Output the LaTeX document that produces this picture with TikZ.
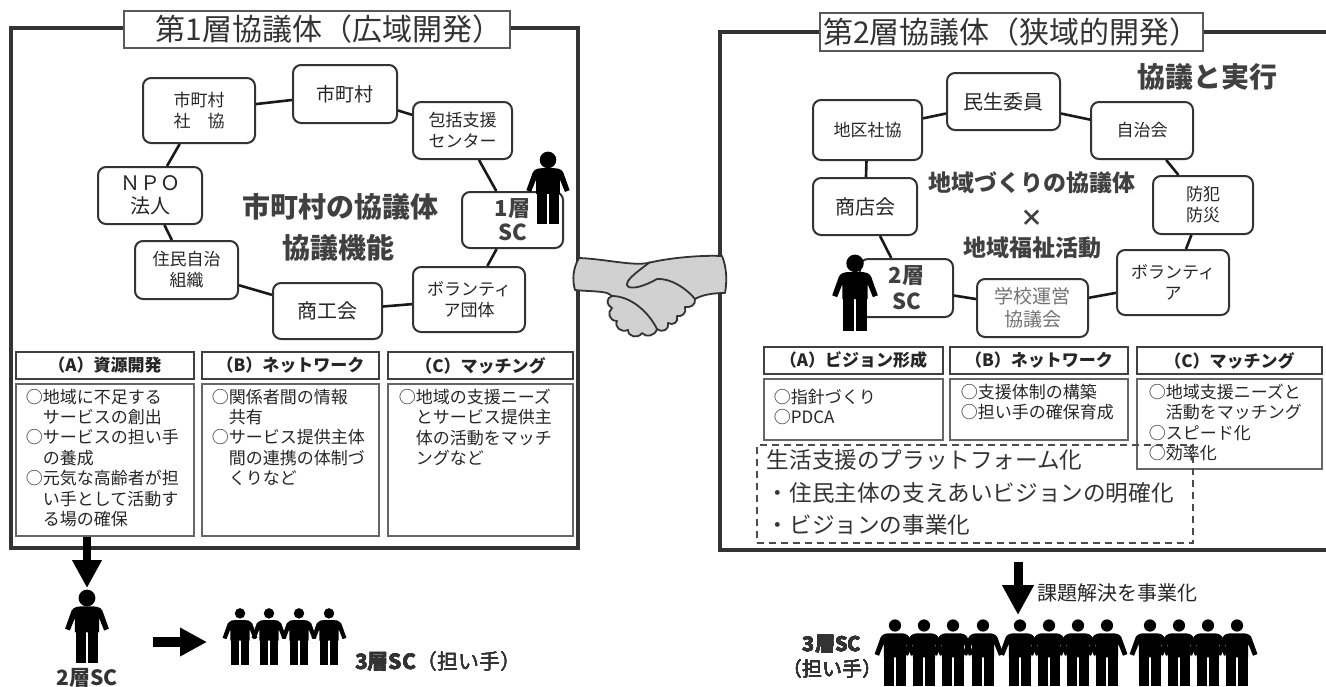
\documentclass[tikz,border=0pt]{standalone}
\usepackage{fontspec}
\setmainfont{Noto Sans CJK JP}
\usetikzlibrary{arrows.meta}

\newcommand\jfs[2]{\fontsize{#1}{#2}\selectfont}
% pictogram: [head radius] foot centre x, foot y, height
\newcommand\hito[4][0.115]{%
  \begin{scope}[shift={(#2,#3)}, x=#4*0.5pt, y=#4*0.5pt]
    \fill (0,0.89) circle (#1);
    \fill (-0.30,0.47) -- (-0.21,0.72) .. controls (-0.18,0.77) and (-0.12,0.775) .. (-0.08,0.775)
      -- (0.08,0.775) .. controls (0.12,0.775) and (0.18,0.77) .. (0.21,0.72) -- (0.30,0.47)
      -- (0.235,0.445) -- (0.165,0.62) -- (0.165,0.42) -- (-0.165,0.42) -- (-0.165,0.62)
      -- (-0.235,0.445) -- cycle;
    \fill (-0.155,0) rectangle (-0.012,0.43);
    \fill (0.012,0) rectangle (0.155,0.43);
  \end{scope}}

\begin{document}
\begin{tikzpicture}[x=0.5pt, y=-0.5pt,
    waku/.style={draw=black!80, line width=1.6pt},
    midashi/.style={draw=black!65, fill=white, line width=0.6pt, inner sep=0pt, text=black!80, font=\jfs{15}{18}},
    kikan/.style={draw=black!80, fill=white, rounded corners=4pt, line width=1pt, inner sep=0pt, align=center, text=black!85, font=\jfs{8.5}{10.5}},
    ring/.style={black!90, line width=1.3pt},
    komoku/.style={draw=black!75, line width=0.6pt, inner sep=0pt, font=\bfseries\jfs{8.5}{10}, text=black!85},
    naiyo/.style={draw=black!60, line width=0.6pt, inner sep=0pt},
    setsumei/.style={inner sep=0pt, align=left, anchor=north west, font=\jfs{8.5}{10.2}, text=black!85},
    chushin/.style={font=\bfseries\jfs{14}{20}, text=black!75, inner sep=0pt},
    futoya/.style={-{Triangle[length=14pt, width=14pt]}, line width=4pt},
  ]
  \fill[white] (0,0) rectangle (1326,686);
  \clip (0,0) rectangle (1326,686);

  % frames
  \draw[waku] (11,28) rectangle (578,548);
  \node[midashi, minimum width=193pt, minimum height=18.5pt] (midashi1) at (317,29.5) {\hspace{12pt}第1層協議体（広域開発）};
  \draw[waku] (1340,32) -- (720,32) -- (720,550) -- (1340,550);
  \node[midashi, minimum width=191.5pt, minimum height=19pt] (midashi2) at (1011.5,32) {第2層協議体（狭域的開発）};

  % handshake
  \filldraw[fill=black!18, draw=black!80, line width=0.9pt, line join=round]
    (579,258) .. controls (605,259) and (632,266) .. (648,263)
    .. controls (668,258) and (700,255) .. (722,256)
    .. controls (727,268) and (727,282) .. (725,293)
    .. controls (712,293) and (702,295) .. (695,299)
    .. controls (696,305) and (690,308) .. (685,307)
    .. controls (687,313) and (682,317) .. (677,316)
    .. controls (679,322) and (673,326) .. (668,323)
    .. controls (669,330) and (663,333) .. (657,329)
    .. controls (655,336) and (646,338) .. (642,333)
    .. controls (638,339) and (628,337) .. (628,330)
    .. controls (621,333) and (614,327) .. (617,321)
    .. controls (609,321) and (607,312) .. (612,308)
    .. controls (606,305) and (606,298) .. (612,296)
    .. controls (608,293) and (605,292) .. (602,292)
    .. controls (594,291) and (584,291) .. (575,290)
    .. controls (572,280) and (573,268) .. (579,258) -- cycle;
  \draw[black!80, line width=0.9pt, line join=round]
    (650,262) .. controls (640,270) and (626,279) .. (627,285)
    .. controls (629,291) and (645,286) .. (657,279)
    .. controls (671,278) and (687,289) .. (695,299);
  \draw[black!80, line width=0.9pt] (612,296) .. controls (630,296) and (648,311) .. (657,329);

  % first layer ring
  \node[kikan, minimum width=56pt, minimum height=32.5pt] (sikyo) at (199,110.5) {市町村\\社　協};
  \node[kikan, font=\jfs{9.5}{11}, minimum width=52pt, minimum height=29pt] (shicho) at (345,94) {市町村};
  \node[kikan, minimum width=49.5pt, minimum height=28.5pt] (hokatsu) at (462.5,130.5) {包括支援\\センター};
  \node[kikan, font=\bfseries\jfs{11}{12}, text=black!75, minimum width=50.5pt, minimum height=28pt] (sc1) at (512.5,220) {1層\\SC};
  \node[kikan, minimum width=56pt, minimum height=32.5pt] (volL) at (469,299.5) {ボランティ\\ア団体};
  \node[kikan, font=\jfs{10}{12}, minimum width=54.5pt, minimum height=28pt] (shoko) at (327.5,311) {商工会};
  \node[kikan, minimum width=51.5pt, minimum height=29pt] (jumin) at (186.5,270) {住民自治\\組織};
  \node[kikan, font=\jfs{10}{11.5}, minimum width=52pt, minimum height=28.5pt] (npo) at (150,195.5) {ＮＰＯ\\法人};
  \foreach \a/\b in {sikyo/shicho, shicho/hokatsu, hokatsu/sc1, sc1/volL, volL/shoko, shoko/jumin, jumin/npo, npo/sikyo}
    \draw[ring] (\a) -- (\b);
  \node[chushin] (kyogi1) at (340,207) {市町村の協議体};
  \node[chushin] (kino1) at (338,248) {協議機能};
  \hito{548}{224}{72}

  % second layer ring
  \node[kikan, minimum width=54.5pt, minimum height=30pt] (chiku) at (867.5,130) {地区社協};
  \node[kikan, font=\jfs{10}{12}, minimum width=56.5pt, minimum height=28.5pt] (minsei) at (1003.5,101.5) {民生委員};
  \node[kikan, minimum width=51pt, minimum height=28.5pt] (jichi) at (1142,130.5) {自治会};
  \node[kikan, minimum width=50pt, minimum height=29pt] (bohan) at (1203,205) {防犯\\防災};
  \node[kikan, minimum width=56pt, minimum height=32.5pt] (volR) at (1173,282.5) {ボランティ\\ア};
  \node[kikan, font=\jfs{9.5}{11.5}, text=black!55, minimum width=55.5pt, minimum height=29pt] (gakko) at (1032.5,308) {学校運営\\協議会};
  \node[kikan, font=\bfseries\jfs{11}{13}, text=black!75, minimum width=46.5pt, minimum height=29pt] (sc2) at (906.5,288) {2層\\SC};
  \node[kikan, font=\jfs{10}{12}, minimum width=52pt, minimum height=28.5pt] (shoten) at (865,206.5) {商店会};
  \foreach \a/\b in {chiku/minsei, minsei/jichi, jichi/bohan, bohan/volR, volR/gakko, gakko/sc2, sc2/shoten, shoten/chiku}
    \draw[ring] (\a) -- (\b);
  \node[chushin, font=\bfseries\jfs{11.5}{14}] (chiiki) at (1032,183) {地域づくりの協議体};
  \node[chushin, font=\bfseries\jfs{11.5}{14}] (kakeru) at (1032,218) {×};
  \node[chushin, font=\bfseries\jfs{11.5}{14}] (fukushi) at (1032,248) {地域福祉活動};
  \node[chushin] (jikko) at (1207,77) {協議と実行};
  \hito{855}{331}{76}

  % first layer functions
  \node[komoku, minimum width=89pt, minimum height=13.5pt] (hA) at (105,365.5) {（A）資源開発};
  \node[komoku, minimum width=88.5pt, minimum height=13.5pt] (hB) at (290.5,365.5) {（B）ネットワーク};
  \node[komoku, minimum width=92.5pt, minimum height=13.5pt] (hC) at (480.5,365.5) {（C）マッチング};
  \node[naiyo, minimum width=89pt, minimum height=76pt] (cA) at (105,460) {};
  \node[naiyo, minimum width=88.5pt, minimum height=76pt] (cB) at (290.5,460) {};
  \node[naiyo, minimum width=92.5pt, minimum height=76pt] (cC) at (480.5,460) {};
  \node[setsumei, xshift=5pt, yshift=-2.5pt] (tA) at (cA.north west)
    {○地域に不足する\\　サービスの創出\\○サービスの担い手\\　の養成\\○元気な高齢者が担\\　い手として活動す\\　る場の確保};
  \node[setsumei, xshift=5pt, yshift=-2.5pt] (tB) at (cB.north west)
    {○関係者間の情報\\　共有\\○サービス提供主体\\　間の連携の体制づ\\　くりなど};
  \node[setsumei, xshift=5.5pt, yshift=-2.5pt] (tC) at (cC.north west)
    {○地域の支援ニーズ\\　とサービス提供主\\　体の活動をマッチ\\　ングなど};

  % second layer functions
  \node[komoku, minimum width=89.5pt, minimum height=13.5pt] (rA) at (853.5,360.5) {（A）ビジョン形成};
  \node[komoku, minimum width=89pt, minimum height=13.5pt] (rB) at (1039,360.5) {（B）ネットワーク};
  \node[komoku, minimum width=92.5pt, minimum height=13.5pt] (rC) at (1229.5,360.5) {（C）マッチング};
  \node[naiyo, minimum width=89.5pt, minimum height=30.5pt] (dA) at (853.5,409.5) {};
  \node[naiyo, minimum width=89pt, minimum height=30.5pt] (dB) at (1039,409.5) {};
  \node[naiyo, minimum width=92.5pt, minimum height=45pt] (dC) at (1229.5,424) {};
  \node[setsumei, font=\jfs{8.5}{10}, xshift=5pt, yshift=-5pt] (uA) at (dA.north west) {○指針づくり\\○PDCA};
  \node[setsumei, font=\jfs{8.5}{10}, xshift=5.5pt, yshift=-2.5pt] (uB) at (dB.north west) {○支援体制の構築\\○担い手の確保育成};
  \node[setsumei, xshift=6pt, yshift=-2.5pt] (uC) at (dC.north west) {○地域支援ニーズと\\　活動をマッチング\\○スピード化\\○効率化};
  \node[draw=black!70, dashed, dash pattern=on 3.5pt off 2.5pt, line width=0.6pt, minimum width=218pt, minimum height=49pt, inner sep=0pt] (pf) at (975,494) {};
  \node[setsumei, font=\jfs{11.3}{16.2}, text=black!80, xshift=5pt, yshift=-2.5pt] (pftxt) at (pf.north west)
    {生活支援のプラットフォーム化\\・住民主体の支えあいビジョンの明確化\\・ビジョンの事業化};

  % coordinators below
  \coordinate (ya1s) at (87,537);
  \coordinate (ya1e) at (87,588);
  \draw[futoya] (ya1s) -- (ya1e);
  \hito{87}{663}{73}
  \node[font=\bfseries\jfs{10.5}{12}, text=black!80] (sc2lbl) at (87,678) {2層SC};
  \coordinate (ya2s) at (153,642);
  \coordinate (ya2e) at (207,642);
  \draw[futoya, -{Triangle[length=13.5pt, width=13.5pt]}, line width=5pt] (ya2s) -- (ya2e);
  \foreach \x in {240,269,299,329}
    \hito[0.09]{\x}{665}{58}
  \node[anchor=west, font=\jfs{10.5}{12}, text=black!80] (sc3lbl) at (348,662) {\textbf{3層SC}（担い手）};

  \coordinate (ya3s) at (1018,562);
  \coordinate (ya3e) at (1018,615);
  \draw[futoya, -{Triangle[length=15pt, width=15pt]}, line width=4.5pt] (ya3s) -- (ya3e);
  \node[anchor=west, font=\jfs{10}{12}, text=black!85] (kadai) at (1030,593) {課題解決を事業化};
  \foreach \x in {895,924,953,983,1020,1049,1078,1107,1150,1179,1208,1237}
    \hito[0.09]{\x}{686}{68}
  \node[align=center, font=\jfs{10}{12.5}, text=black!80, inner sep=0pt] (sc3r) at (832,657) {\textbf{3層SC}\\（担い手）};
\end{tikzpicture}
\end{document}
